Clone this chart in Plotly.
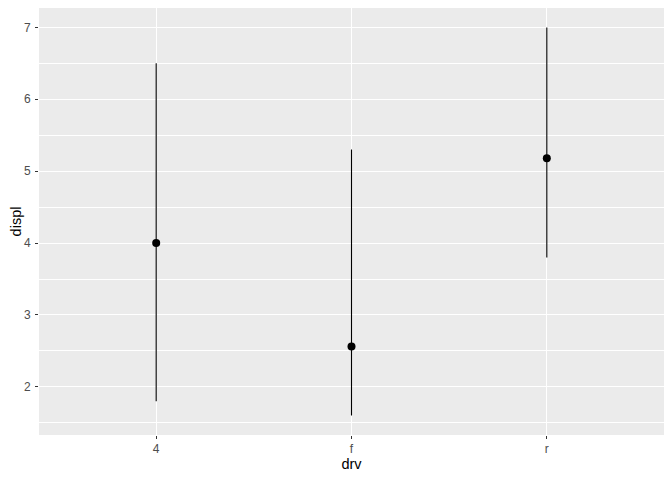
import plotly.graph_objects as go

drv = ["4", "f", "r"]
displ_mean = [4.00, 2.56, 5.18]
displ_min = [1.8, 1.6, 3.8]
displ_max = [6.5, 5.3, 7.0]

fig = go.Figure()

fig.add_trace(go.Scatter(
    x=drv,
    y=displ_mean,
    mode="markers",
    marker=dict(color="black", size=8),
    error_y=dict(
        type="data",
        symmetric=False,
        array=[hi - m for hi, m in zip(displ_max, displ_mean)],
        arrayminus=[m - lo for lo, m in zip(displ_min, displ_mean)],
        color="black",
        thickness=1.1,
        width=0,
    ),
    showlegend=False,
))

# page body keeps its 8px margin, so the figure is sized to fit inside it
fig.update_layout(
    width=656, height=464,
    margin=dict(l=31, r=0, t=0, b=37, pad=0),
    plot_bgcolor="#EBEBEB",
    paper_bgcolor="white",
    font=dict(family="Liberation Sans, Arial, sans-serif"),
    xaxis=dict(
        type="category",
        range=[-0.6, 2.6],
        automargin=False,
        showgrid=True, gridcolor="white", gridwidth=1.1,
        zeroline=False,
        ticks="outside", ticklen=3, tickcolor="#333333", tickwidth=1,
        tickfont=dict(size=12, color="#4D4D4D"),
        title=dict(text="drv", font=dict(size=14.5, color="black"), standoff=2),
    ),
    yaxis=dict(
        range=[1.33, 7.27],
        tickvals=[2, 3, 4, 5, 6, 7],
        automargin=False,
        showgrid=True, gridcolor="white", gridwidth=1.1,
        zeroline=False,
        ticks="outside", ticklen=3, tickcolor="#333333", tickwidth=1,
        ticklabelstandoff=2,
        tickfont=dict(size=12, color="#4D4D4D"),
        title=dict(text="displ", font=dict(size=14.5, color="black"), standoff=4),
        minor=dict(tickvals=[1.5, 2.5, 3.5, 4.5, 5.5, 6.5], showgrid=True,
                   gridcolor="white", gridwidth=0.5, ticks=""),
    ),
)

fig.write_html("out.html")
